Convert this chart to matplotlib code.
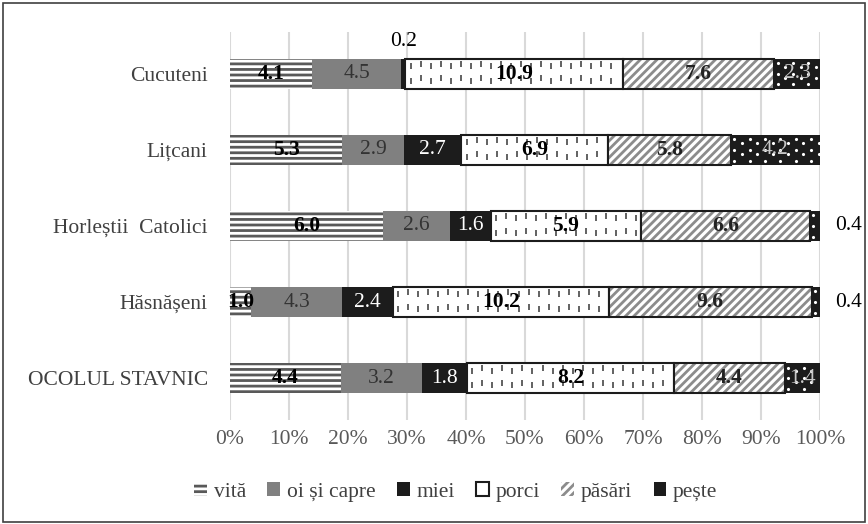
import numpy as np
import matplotlib
matplotlib.use('Agg')
import matplotlib.pyplot as plt
from matplotlib.patches import Rectangle

plt.rcParams['font.family'] = ['Liberation Serif', 'DejaVu Serif']
plt.rcParams['hatch.linewidth'] = 2.0

# data (values per site, shown as share of the row total)
sites = ['Cucuteni', 'Lițcani', 'Horleștii  Catolici', 'Hăsnășeni', 'OCOLUL STAVNIC']
series = ['vită', 'oi și capre', 'miei', 'porci', 'păsări', 'pește']
vita = [4.1, 5.3, 6.0, 1.0, 4.4]
oi = [4.5, 2.9, 2.6, 4.3, 3.2]
miei = [0.2, 2.7, 1.6, 2.4, 1.8]
porci = [10.9, 6.9, 5.9, 10.2, 8.2]
pasari = [7.6, 5.8, 6.6, 9.6, 4.4]
peste = [2.3, 4.2, 0.4, 0.4, 1.4]
xticks = ['0%', '10%', '20%', '30%', '40%', '50%', '60%', '70%', '80%', '90%', '100%']

vals = np.array([vita, oi, miei, porci, pasari, peste])
shares = vals / vals.sum(axis=0) * 100

FS = 15.5

# style for each series: face, hatch colour (edge), hatch, border, label colour, bold
styles = [
    dict(fc='white', ec='#595959', hatch='---', lw=0, tc='black', bold=True),
    dict(fc='#808080', ec='#808080', hatch=None, lw=0, tc='#333333', bold=False),
    dict(fc='#1c1c1c', ec='#1c1c1c', hatch=None, lw=0, tc='white', bold=False),
    dict(fc='white', ec='#1c1c1c', hatch=None, lw=1.5, tc='black', bold=True),
    dict(fc='white', ec='#8c8c8c', hatch='////', lw=0, tc='#222222', bold=True),
    dict(fc='#1c1c1c', ec='#1c1c1c', hatch=None, lw=0, tc='#c8c8c8', bold=False),
]

fig = plt.figure(figsize=(8.68, 5.24), dpi=100)
ax = fig.add_axes([230/868, 1-420/524, 590/868, 388/524])

y = np.arange(len(sites))
h = 0.39
left = np.zeros(len(sites))
handles = []
for i, name in enumerate(series):
    st = styles[i]
    bars = ax.barh(y, shares[i], left=left, height=h, color=st['fc'], edgecolor=st['ec'],
                   hatch=st['hatch'], linewidth=st['lw'], label=name, zorder=3)
    if name == 'păsări':
        # black outline on top of hatched bars
        ax.barh(y, shares[i], left=left, height=h, fill=False, edgecolor='#1c1c1c',
                linewidth=1.5, zorder=4)
    if name == 'porci':
        # little vertical dashes pattern
        for j in range(len(sites)):
            xs = np.arange(left[j] + 0.9, left[j] + shares[i][j] - 0.3, 1.7)
            for k, xx in enumerate(xs):
                off = 0.03 if k % 2 else 0
                ax.plot([xx, xx], [y[j] - 0.1 - off, y[j] + 0.09 - off], ls='none',
                        marker='|', ms=5, mew=1.3, color='#555555', zorder=3.5)
    if name == 'pește':
        # white dots on black
        for j in range(len(sites)):
            xs = np.arange(left[j] + 0.6, left[j] + shares[i][j] - 0.2, 1.3)
            for k, xx in enumerate(xs):
                ys = y[j] + np.array([-0.14, 0.0, 0.14]) + (0.05 if k % 2 else 0)
                ys = ys[ys < y[j] + 0.17]
                ax.plot(np.full(len(ys), xx), ys, ls='none', marker='.', ms=2.5,
                        color='white', zorder=3.5)
    handles.append(bars)
    for j in range(len(sites)):
        v = vals[i][j]
        cx = left[j] + shares[i][j] / 2
        fw = 'bold' if st['bold'] else 'normal'
        if v < 0.5:
            if name == 'miei':
                ax.text(cx, y[j] - 0.43, f'{v:.1f}', ha='center', va='center',
                        fontsize=FS, color='black', zorder=5)
            else:
                ax.text(104.8, y[j], f'{v:.1f}', ha='center', va='center',
                        fontsize=FS, color='black', zorder=5, clip_on=False)
        else:
            ax.text(cx, y[j], f'{v:.1f}', ha='center', va='center', fontsize=FS,
                    color=st['tc'], fontweight=fw, zorder=5)
    left = left + shares[i]

ax.set_xlim(0, 100)
ax.set_ylim(4.55, -0.55)
ax.set_yticks(y)
ax.set_yticklabels(sites, fontsize=FS, color='#404040')
ax.set_xticks(np.arange(0, 101, 10))
ax.set_xticklabels(xticks, fontsize=FS, color='#595959')
ax.tick_params(axis='y', length=0, pad=16)
ax.tick_params(axis='x', length=0, pad=7)
ax.grid(axis='x', color='#d9d9d9', lw=1.5, zorder=0)
for s in ax.spines.values():
    s.set_visible(False)

fig.legend(handles=handles, labels=series, loc='center', bbox_to_anchor=(0.525, 1-492/524),
           ncol=6, frameon=False, prop=dict(family=['Liberation Serif'], size=FS),
           handlelength=0.6, handleheight=0.6, handletextpad=0.3, columnspacing=1.0,
           labelcolor='#404040')

fig.patches.append(Rectangle((0.004, 0.004), 0.992, 0.99, transform=fig.transFigure,
                             fill=False, edgecolor='#404040', lw=1.2))

fig.savefig('out.png', dpi=100)
